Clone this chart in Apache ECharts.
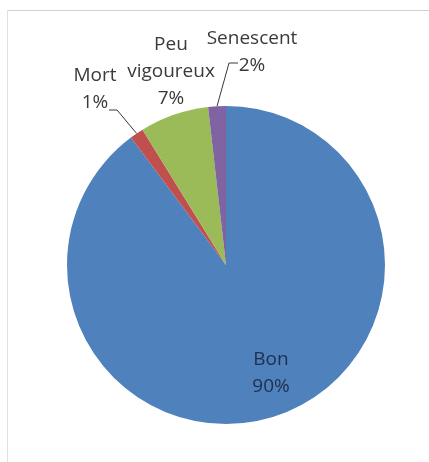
<!DOCTYPE html>
<html>
<head>
<meta charset="utf-8">
<script src="https://cdn.jsdelivr.net/npm/echarts@6/dist/echarts.min.js"></script>
<style>html,body{margin:0;padding:0;background:#fff;}#main{width:429px;height:462px;}</style>
</head>
<body>
<div id="main"></div>
<script>
const categories = ['Bon', 'Mort', 'Peu vigoureux', 'Senescent'];
const values = [89.8, 1.4, 7.0, 1.8];
const colors = ['#4F81BD', '#C0504D', '#9BBB59', '#8064A2'];

const anchors = [[271, 373], [95, 89], [171, 72], [252, 52]];
const lineOffsets = [null, [[22, 21], [14, 21]], null, [[-23, 11], [-14, 11]]];

const chart = echarts.init(document.getElementById('main'), null, {renderer: 'canvas'});
chart.setOption({
  animation: false,
  graphic: [
    {type: 'line', shape: {x1: 7, y1: 10.5, x2: 429, y2: 10.5}, style: {stroke: '#cfcfcf', lineWidth: 1}},
    {type: 'line', shape: {x1: 7.5, y1: 10, x2: 7.5, y2: 462}, style: {stroke: '#e0e0e0', lineWidth: 1}}
  ],
  series: [{
    type: 'pie',
    center: [226, 265],
    radius: 159,
    startAngle: 90,
    clockwise: true,
    avoidLabelOverlap: false,
    emphasis: {disabled: true},
    itemStyle: {borderWidth: 0},
    label: {
      show: true,
      position: 'outside',
      formatter: p => p.name.replace(' ', '\n') + '\n' + Math.round(p.percent) + '%',
      fontFamily: 'Open Sans',
      fontSize: 19,
      lineHeight: 27,
      color: '#3a3a3a',
      align: 'center'
    },
    labelLine: {show: true, length: 20, length2: 10, lineStyle: {color: '#3a3a3a', width: 1}},
    labelLayout: function (p) {
      const a = anchors[p.dataIndex];
      const res = {x: a[0], y: a[1], align: 'center', verticalAlign: 'middle'};
      const lo = lineOffsets[p.dataIndex];
      if (lo && p.labelLinePoints) {
        res.labelLinePoints = [
          p.labelLinePoints[0].slice(),
          [a[0] + lo[0][0], a[1] + lo[0][1]],
          [a[0] + lo[1][0], a[1] + lo[1][1]]
        ];
      }
      return res;
    },
    data: categories.map((n, i) => ({
      name: n,
      value: values[i],
      itemStyle: {color: colors[i]},
      label: i === 0 ? {position: 'inside', color: '#1f2f4f'} : {},
      labelLine: {show: i === 1 || i === 3}
    }))
  }]
});
</script>
</body>
</html>
